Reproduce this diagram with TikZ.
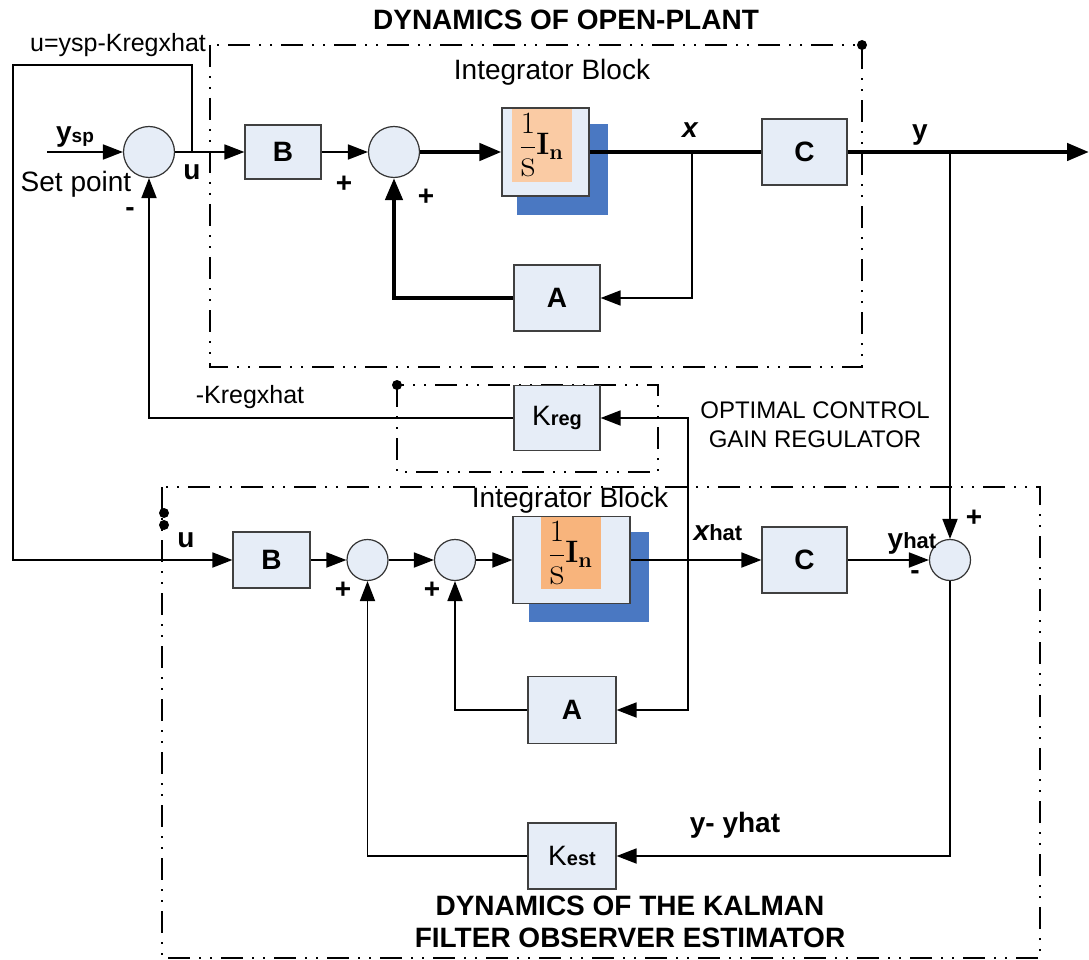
\RequirePackage{fix-cm}
\documentclass[tikz,border=0pt]{standalone}
\usepackage[no-math]{fontspec}
\setmainfont{Liberation Sans}
\usetikzlibrary{arrows.meta, backgrounds}
\definecolor{blkfill}{HTML}{E6EDF7}
\definecolor{intorange}{HTML}{FACBA4}
\definecolor{intorangeb}{HTML}{F8B47C}
\definecolor{shadowblue}{HTML}{4A78C2}
\newcommand{\kgain}[1]{{\fontsize{28}{28}\selectfont K}{\fontsize{20}{20}\selectfont\bfseries #1}}
\newcommand{\intmath}{{\fontsize{31}{33}\selectfont$\displaystyle\frac{1}{\mbox{\fontsize{40}{40}\selectfont$\mathrm{s}$}}\mathbf{I}_{\mathbf{n}}$}}
\tikzset{
  % blocco generico
  blk/.style={draw=black!75, fill=blkfill, line width=1.2pt, inner sep=0pt,
    font=\fontsize{28}{28}\selectfont\bfseries},
  % interno arancione dell'integratore
  intin/.style={fill=intorange, minimum width=60pt, inner sep=0pt, anchor=north west},
  % sommatore
  sumj/.style={circle, draw=black!80, fill=blkfill, line width=1.2pt, inner sep=0pt,
    minimum size=41pt},
  bigsum/.style={sumj, minimum size=51pt},
  % segnali
  sig/.style={-{Triangle[length=20pt,width=15pt]}, line width=1.8pt},
  heavy/.style={line width=4.5pt},
  heavysig/.style={heavy, -{Triangle[length=22pt,width=17pt]}},
  % riquadri tratto-punto
  frame/.style={line width=2pt, dash pattern=on 22pt off 9pt on 2pt off 9pt on 2pt off 9pt},
  % etichette
  lbl/.style={font=\fontsize{28}{28}\selectfont},
  slbl/.style={font=\fontsize{25}{25}\selectfont},
  blbl/.style={font=\fontsize{28}{28}\selectfont\bfseries},
  ttl/.style={font=\fontsize{28}{32}\selectfont\bfseries, align=center},
}

\begin{document}
\begin{tikzpicture}[x=1pt, y=-1pt]
  \useasboundingbox (0,0) rectangle (1089,960);
  % riquadri
  \draw[frame] (210,45) rectangle (862,367);
  \draw[frame] (397,385) rectangle (658,472);
  \draw[frame] (162,487) rectangle (1040,958);
  \fill (862,45) circle (5pt);
  \fill (397,385) circle (5pt);
  \fill (164,513) circle (5pt);
  \fill (164,525) circle (5pt);
  % impianto
  \node[bigsum] (sumin) at (149,152) {};
  \node[blk, minimum width=76pt, minimum height=54pt] (bplant) at (283,152) {B};
  \node[bigsum] (sumplant) at (394,152) {};
  \node[blk, minimum width=87pt, minimum height=88pt] (intplant) at (545.5,152) {};
  \node[intin, minimum height=73pt] (intplantin) at ([xshift=10pt,yshift=-1pt]intplant.north west) {\intmath};
  \node[blk, minimum width=85pt, minimum height=66pt] (cplant) at (804.5,152) {C};
  \node[blk, minimum width=86pt, minimum height=66pt] (aplant) at (557,298) {A};
  % guadagno del regolatore
  \node[blk, minimum width=86pt, minimum height=65pt, font=\normalfont] (kreg) at (557,418) {\kgain{reg}};
  % stimatore
  \node[blk, minimum width=77pt, minimum height=56pt] (best) at (271.5,560) {B};
  \node[sumj] (sumb) at (367.5,560) {};
  \node[sumj] (suma) at (455,560) {};
  \node[blk, minimum width=117pt, minimum height=87pt] (intest) at (571.5,560) {};
  \node[intin, fill=intorangeb, minimum height=72pt] (intestin) at ([xshift=28pt,yshift=-1pt]intest.north west) {\intmath};
  \node[blk, minimum width=85pt, minimum height=66pt] (cest) at (804.5,560) {C};
  \node[sumj] (sumy) at (950,560) {};
  \node[blk, minimum width=88pt, minimum height=67pt] (aest) at (572,710) {A};
  \node[blk, minimum width=88pt, minimum height=66pt, font=\normalfont] (kest) at (572,856) {\kgain{est}};
  % ombre degli integratori
  \begin{scope}[on background layer]
    \fill[shadowblue] ([xshift=16pt,yshift=-17pt]intplant.north west) rectangle ([xshift=18pt,yshift=-18pt]intplant.south east);
    \fill[shadowblue] ([xshift=17pt,yshift=-16pt]intest.north west) rectangle ([xshift=18pt,yshift=-18pt]intest.south east);
  \end{scope}
  % punti di diramazione
  \coordinate (spin) at (47,152);
  \coordinate (utap) at (192,152);
  \coordinate (xtap) at (692,152);
  \coordinate (ytap) at (950,152);
  \coordinate (yout) at (1089,152);
  \coordinate (xhtap) at (688,560);
  \coordinate (fbcorner) at (13,65);
  % collegamenti impianto
  \draw[sig] (spin) -- (sumin);
  \draw[sig] (sumin) -- (bplant);
  \draw[sig] (bplant) -- (sumplant);
  \draw[heavysig] (sumplant) -- (intplant);
  \draw[heavy] (intplant) -- (cplant);
  \draw[heavysig] (cplant) -- (yout);
  \draw[sig] (xtap) |- (aplant);
  \draw[heavysig] (aplant) -| (sumplant);
  \draw[sig] (utap) |- (fbcorner) |- (best);
  \draw[sig] (kreg) -| (sumin);
  % collegamenti stimatore
  \draw[sig] (best) -- (sumb);
  \draw[sig] (sumb) -- (suma);
  \draw[sig] (suma) -- (intest);
  \draw[sig] (intest) -- (cest);
  \draw[sig] (cest) -- (sumy);
  \draw[sig] (ytap) -- (sumy);
  \draw[sig] (xhtap) |- (kreg);
  \draw[sig] (xhtap) |- (aest);
  \draw[sig] (sumy) |- (kest);
  \draw[sig] (kest) -| (sumb);
  \draw[sig] (aest) -| (suma);
  % etichette
  \node[ttl] (ttlplant) at (566,20) {DYNAMICS OF OPEN-PLANT};
  \node[ttl] (ttlest) at (630,922) {DYNAMICS OF THE KALMAN\\FILTER OBSERVER ESTIMATOR};
  \node[slbl] (ulaw) at (118,45) {u=ysp-Kregxhat};
  \node[blbl] (ysplbl) at (75,137) {y\raisebox{-1pt}{\fontsize{19}{19}\selectfont sp}};
  \node[lbl] (setlbl) at (76,184) {Set point};
  \node[blbl] (ulbl) at (192,172) {u};
  \node[blbl] (minin) at (130,212) {-};
  \node[blbl] (plusb) at (344,184) {+};
  \node[blbl] (plusa) at (426,197) {+};
  \node[blbl] (xlbl) at (690,130) {\itshape x};
  \node[blbl] (ylbl) at (920,135) {y};
  \node[lbl] (intlbl) at (552,72) {Integrator Block};
  \node[lbl] (intlblb) at (570,500) {Integrator Block};
  \node[slbl] (kxlbl) at (250,397) {-Kregxhat};
  \node[font=\fontsize{24}{29}\selectfont, align=center] (optlbl) at (815,425) {OPTIMAL CONTROL\\GAIN REGULATOR};
  \node[blbl] (ulblb) at (186,540) {u};
  \node[blbl] (plusbb) at (343,590) {+};
  \node[blbl] (plusab) at (432,590) {+};
  \node[blbl] (xhlbl) at (718,533) {{\itshape x}{\fontsize{22}{22}\selectfont hat}};
  \node[blbl] (yhlbl) at (912,543) {y{\fontsize{22}{22}\selectfont hat}};
  \node[blbl] (minyh) at (915,575) {-};
  \node[blbl] (plusy) at (974,518) {+};
  \node[blbl] (errlbl) at (735,825) {y- yhat};
\end{tikzpicture}
\end{document}
